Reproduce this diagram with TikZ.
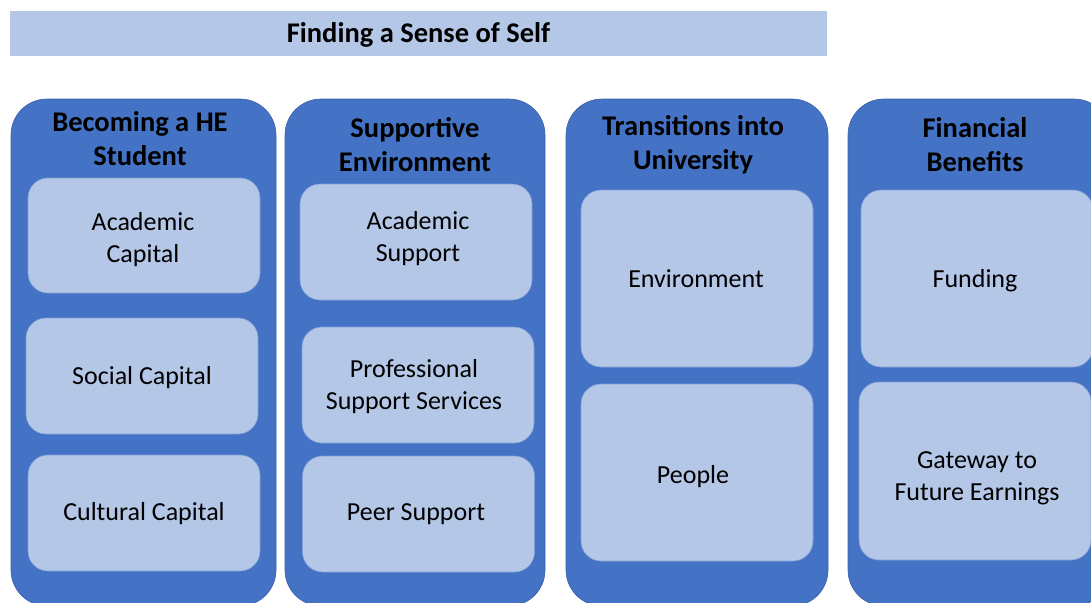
\documentclass[tikz,border=0pt]{standalone}
\usepackage{fontspec}
\setmainfont{Carlito}
\definecolor{colblue}{HTML}{4472C4}
\definecolor{paleblue}{HTML}{B4C7E7}
\begin{document}
\begin{tikzpicture}[x=1pt,y=-1pt,
  banner/.style={fill=paleblue, draw=none, minimum width=817pt, minimum height=45pt, inner sep=0pt},
  bannertext/.style={anchor=base, inner sep=0pt, font=\bfseries\fontsize{28.5}{32}\selectfont},
  column/.style={draw=colblue!85!black, line width=0.6pt, fill=colblue, rounded corners=36pt,
    minimum height=507pt, inner sep=0pt},
  heading/.style={align=center, inner sep=0pt, font=\bfseries\fontsize{28.5}{34}\selectfont},
  item/.style={draw=colblue!45!paleblue, line width=0.6pt, fill=paleblue, rounded corners=20pt,
    minimum width=232pt, inner sep=0pt},
  short/.style={minimum height=116pt},
  tall/.style={minimum height=177pt},
  lbl/.style={align=center, inner sep=0pt, font=\fontsize{26}{32}\selectfont}]
\useasboundingbox (0,0) rectangle (1091,602);
\clip (0,0) rectangle (1091,602);
\fill[white] (0,0) rectangle (1091,602);

% title banner
\node[banner] (title) at (418.5,33.5) {};
\node[bannertext] (titletext) at (418.5,43) {Finding a Sense of Self};

% the four theme columns
\node[column, minimum width=265pt] (colA) at (143.5,352.5) {};
\node[column, minimum width=260pt] (colB) at (415,352.5) {};
\node[column, minimum width=262pt] (colC) at (697,352.5) {};
\node[column, minimum width=262pt] (colD) at (979,352.5) {};

% column headings
\node[heading] (hA) at (140,138.5) {Becoming a HE\\Student};
\node[heading] (hB) at (415,144.5) {Supportive\\Environment};
\node[heading] (hC) at (693,145) {Transitions into\\University};
\node[heading] (hD) at (975,145) {Financial\\Benefits};

% sub-theme boxes
\node[item, minimum height=115pt] (a1) at (144,235.5) {};
\node[item, short] (a2) at (142,376) {};
\node[item, short] (a3) at (144,513) {};

\node[item, short] (b1) at (416,242) {};
\node[item, short] (b2) at (418,385) {};
\node[item, short] (b3) at (418.5,514) {};

\node[item, tall] (c1) at (697,278.5) {};
\node[item, tall] (c2) at (697,472.5) {};

\node[item, tall] (d1) at (977,278.5) {};
\node[item, minimum height=178pt] (d2) at (975,471) {};

% sub-theme labels, placed on their boxes
\node[lbl] (la1) at ([xshift=-1pt,yshift=-4pt]a1.center) {Academic\\Capital};
\node[lbl] (la2) at ([yshift=-2pt]a2.center) {Social Capital};
\node[lbl] (la3) at ([yshift=-1pt]a3.center) {Cultural Capital};
\node[lbl] (lb1) at ([xshift=2pt,yshift=3pt]b1.center) {Academic\\Support};
\node[lbl] (lb2) at ([xshift=-4pt,yshift=-1.5pt]b2.center) {Professional\\Support Services};
\node[lbl] (lb3) at ([xshift=-2.5pt]b3.center) {Peer Support};
\node[lbl] (lc1) at ([xshift=-1pt]c1.center) {Environment};
\node[lbl] (lc2) at ([xshift=-4pt,yshift=-4pt]c2.center) {People};
\node[lbl] (ld1) at ([xshift=-2pt,yshift=-2pt]d1.center) {Funding};
\node[lbl] (ld2) at ([xshift=2pt,yshift=-7.5pt]d2.center) {Gateway to\\Future Earnings};
\end{tikzpicture}
\end{document}
